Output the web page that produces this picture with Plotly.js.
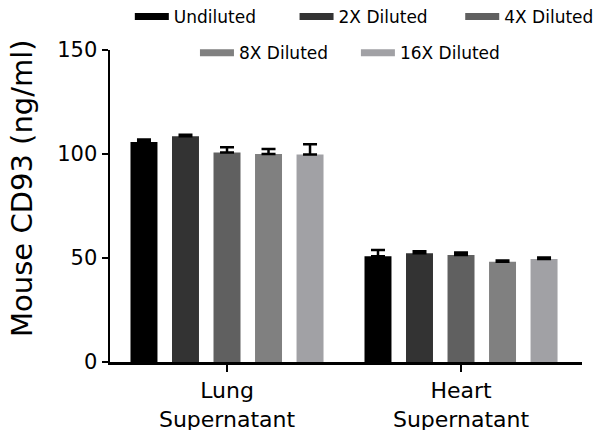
<!DOCTYPE html>
<html>
<head>
<meta charset="utf-8">
<script src="https://cdn.plot.ly/plotly-3.0.1.min.js"></script>
<style>html,body{margin:0;padding:0;background:#fff;}#chart{width:596px;height:430px;}</style>
</head>
<body>
<div id="chart"></div>
<script>
const categories = ["Lung<br>Supernatant", "Heart<br>Supernatant"];
const seriesNames = ["Undiluted", "2X Diluted", "4X Diluted", "8X Diluted", "16X Diluted"];
const undiluted = [105.8, 50.8];
const diluted2X = [108.5, 52.3];
const diluted4X = [100.7, 51.4];
const diluted8X = [100.0, 48.2];
const diluted16X = [99.7, 49.5];
const errUndiluted = [1.2, 3.0];
const err2X = [0.8, 1.0];
const err4X = [2.5, 1.3];
const err8X = [2.4, 0.6];
const err16X = [5.0, 0.8];
const yTicks = [0, 50, 100, 150];
const yTitle = "Mouse CD93 (ng/ml)";

const values = [undiluted, diluted2X, diluted4X, diluted8X, diluted16X];
const errors = [errUndiluted, err2X, err4X, err8X, err16X];
const colors = ["#000000", "#333333", "#606060", "#808080", "#a1a1a5"];
const FONT = "DejaVu Sans, sans-serif";

// legend placement (paper coords) for each series entry
const legendX = [0.042, 0.391, 0.742, 0.18, 0.521];
const legendY = [1.106, 1.106, 1.106, 0.99, 0.99];
const legendIds = ["legend", "legend2", "legend3", "legend4", "legend5"];

const traces = [];
values.forEach((v, i) => {
  traces.push({
    type: "bar", x: categories, y: v, name: seriesNames[i],
    marker: {color: colors[i]}, showlegend: false,
    error_y: {type: "data", array: errors[i], arrayminus: errors[i].map(() => 0), symmetric: false,
              color: "#000", thickness: 2.5, width: 7}
  });
});
values.forEach((v, i) => {
  traces.push({
    type: "scatter", mode: "lines", x: [null], y: [null], name: seriesNames[i],
    line: {color: colors[i], width: 7},
    legend: legendIds[i], hoverinfo: "skip"
  });
});

const layout = {
  width: 596, height: 430,
  margin: {l: 110, r: 14, t: 50, b: 68, autoexpand: false},
  paper_bgcolor: "#fff", plot_bgcolor: "#fff",
  barmode: "group", bargap: 0.113, bargroupgap: 0.35,
  font: {family: FONT, color: "#000"},
  xaxis: {
    type: "category", range: [-0.5, 1.517],
    showline: true, linecolor: "#000", linewidth: 2.5,
    ticks: "outside", ticklen: 7, tickwidth: 2, tickcolor: "#000",
    tickfont: {family: FONT, size: 22, color: "#000"},
    showgrid: false, zeroline: false, fixedrange: true
  },
  yaxis: {
    range: [0, 150], tickvals: yTicks, ticktext: yTicks.map(String),
    showline: true, linecolor: "#000", linewidth: 2.5,
    ticks: "outside", ticklen: 6, tickwidth: 2, tickcolor: "#000",
    tickfont: {family: FONT, size: 21, color: "#000"},
    showgrid: false, zeroline: false, fixedrange: true
  },
  annotations: [{
    text: yTitle, xref: "paper", yref: "paper", x: -0.1864, y: 0.558,
    xanchor: "center", yanchor: "middle", textangle: -90, showarrow: false,
    font: {family: FONT, size: 29, color: "#000"}
  }]
};
legendIds.forEach((id, i) => {
  layout[id] = {
    orientation: "h", font: {family: FONT, size: 17, color: "#000"},
    bgcolor: "rgba(0,0,0,0)", itemwidth: 34,
    x: legendX[i], y: legendY[i], xanchor: "left", yanchor: "middle"
  };
});

Plotly.newPlot("chart", traces, layout, {displayModeBar: false, staticPlot: true});
</script>
</body>
</html>
